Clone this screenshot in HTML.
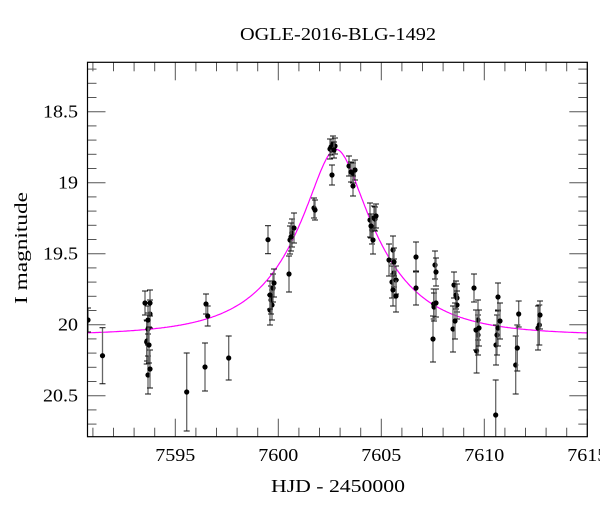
<!DOCTYPE html>
<html><head><meta charset="utf-8"><style>
html,body{margin:0;padding:0;background:#fff;}
svg text{font-family:"Liberation Serif",serif;fill:#000;}
</style></head><body>
<svg id="s" width="600" height="512" xmlns="http://www.w3.org/2000/svg">
<text x="338" y="40" font-size="18" text-anchor="middle" textLength="196" lengthAdjust="spacingAndGlyphs">OGLE-2016-BLG-1492</text>
<text x="338" y="492" font-size="18" text-anchor="middle" textLength="134" lengthAdjust="spacingAndGlyphs">HJD - 2450000</text>
<text transform="translate(27,248) rotate(-90)" font-size="18" text-anchor="middle" textLength="112" lengthAdjust="spacingAndGlyphs">I magnitude</text>
<g id="ax"></g>
<clipPath id="c"><rect x="87.5" y="62.3" width="499.8" height="374.4"/></clipPath>
<g id="dat" clip-path="url(#c)"></g>
<rect x="87.5" y="62.3" width="499.8" height="374.4" fill="none" stroke="#000" stroke-width="1.2"/>
</svg>
<script>
var NS="http://www.w3.org/2000/svg";
function el(p,t,a,txt){var e=document.createElementNS(NS,t);for(var k in a)e.setAttribute(k,a[k]);if(txt)e.textContent=txt;p.appendChild(e);return e;}
var ax=document.getElementById('ax'),dat=document.getElementById('dat');
function X(t){return 175.3+(t-7595)*20.6;}
function Y(m){return 111.7+(m-18.5)*142;}
var L=87.5,R=587.3,T=62.3,B=436.7;
for(var t=7591;t<=7615;t++){var x=X(t),maj=(t%5==0),len=maj?18:9;
 el(ax,'line',{x1:x,y1:B,x2:x,y2:B-len,stroke:'#555','stroke-width':1});
 el(ax,'line',{x1:x,y1:T,x2:x,y2:T+len,stroke:'#555','stroke-width':1});
 if(maj)el(ax,'text',{x:x,y:461,'font-size':18,'text-anchor':'middle',textLength:40,lengthAdjust:'spacingAndGlyphs'},''+t);}
for(var i=0;i<=26;i++){var m=18.2+i*0.1,y=Y(m);if(y<T||y>B)continue;var maj=(Math.abs(m*2-Math.round(m*2))<1e-6),len=maj?18:9;
 el(ax,'line',{x1:L,y1:y,x2:L+len,y2:y,stroke:'#555','stroke-width':1});
 el(ax,'line',{x1:R,y1:y,x2:R-len,y2:y,stroke:'#555','stroke-width':1});
 if(maj){var s=''+(+m.toFixed(1));el(ax,'text',{x:78,y:y+6,'font-size':18,'text-anchor':'end',textLength:s.length==2?20:35,lengthAdjust:'spacingAndGlyphs'},s);}}
var d='';for(var t=7590.5;t<=7615.5;t+=0.05){var u0=0.31,tE=4.0,u=Math.sqrt(u0*u0+Math.pow((t-7602.8)/tE,2));var A=(u*u+2)/(u*Math.sqrt(u*u+4));var m=20.075-2.5*Math.log10(A);d+=(d?'L':'M')+X(t).toFixed(1)+','+Y(m).toFixed(1);}
el(dat,'path',{d:d,fill:'none',stroke:'#ff00ff','stroke-width':1.2});
var P=[[88,320,12],[102.5,355.7,28],[145,303,12],[146.7,342,22],[147,341,20],[150,314,14],[148,329,16],[148,320,14],[150,303,13],[148,375,19],[150,369,19],[149,345,18],
[186.7,392,39],[205,367,24],[206,304,10],[207.7,316,10],[228.7,358,22],
[268,239.7,14],[270,310,15],[272,305,15],[271,300,14],[273,288,14],[274,283,14],[270,295,14],[289,274,18],[290,240,14],[292,233,14],[294,228,15],[291,237,14],
[314,208,10],[315,210,10],[330,149,10],[332,175,10],[331,147,8],[333,144,8],[335,146,8],[334,150,8],
[349,166,10],[351,172,10],[353,173,10],[355,170,10],[353,186,10],
[370,220,17],[372,230,14],[374,218,12],[373,240,14],[375,219,12],[376,216,12],[371,226,12],
[389,260,16],[392,282,16],[393,250,14],[394,273,14],[396,280,14],[393,290,16],[396,296,16],[394,262,14],
[416,257,15],[416,288,17],[433.7,304,15],[435,265,14],[436,272,14],[433,339,23],[434,307,14],[436,303,14],
[454,285,13],[453,329,23],[456,295,14],[457,298,14],[457,305,14],[455,321,18],
[474,288,14],[476.6,351,22],[478,335,20],[478,320,20],[476,330,20],[479,328,18],
[495.7,415,35],[496,345,20],[497,335,20],[498,328,18],[498,297,14],[500,321,18],
[515.7,365,29],[517.3,348,23],[518.7,314,13],[538,328,22],[539.3,325,20],[540,315,14]];
P.forEach(function(p){var x=p[0],y=p[1],e=p[2];
 el(dat,'line',{x1:x,y1:y-e,x2:x,y2:y+e,stroke:'#666','stroke-width':1.3});
 el(dat,'line',{x1:x-3,y1:y-e,x2:x+3,y2:y-e,stroke:'#111','stroke-width':1});
 el(dat,'line',{x1:x-3,y1:y+e,x2:x+3,y2:y+e,stroke:'#111','stroke-width':1});
 el(dat,'circle',{cx:x,cy:y,r:2.6,fill:'#000'});});
</script>
</body></html>
